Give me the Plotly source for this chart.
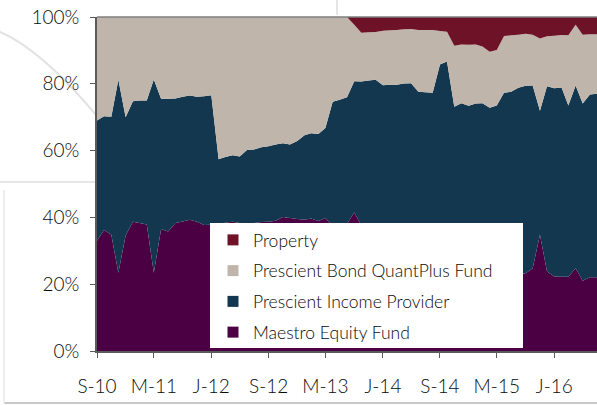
import pandas as pd
import plotly.graph_objects as go

# ---- data (monthly, Sep-2010 .. Jul-2016), % of portfolio ----
months = pd.date_range("2010-09-01", "2016-07-01", freq="MS")

maestro = [33.0, 36.2, 34.8, 23.4, 34.6, 38.7, 38.3, 37.9, 23.4, 36.5,
           35.8, 38.3, 38.8, 39.3, 38.7, 37.7, 37.8, 37.5, 38.5, 38.7,
           38.3, 38.1, 38.3, 38.6, 38.7, 39.0, 40.1, 39.8, 39.5, 39.3,
           39.7, 38.9, 39.8, 37.5, 37.8, 38.0, 41.5, 37.6, 37.0, 36.5,
           36.0, 35.4, 34.8, 34.0, 33.5, 32.8, 32.0, 31.5, 30.8, 30.0,
           29.2, 28.5, 27.8, 27.0, 26.3, 25.5, 24.8, 24.0, 23.5, 23.0,
           23.3, 24.8, 34.8, 23.8, 22.3, 22.2, 22.2, 24.8, 21.0, 22.1,
           22.1]
income = [36.0, 34.1, 35.3, 57.8, 35.4, 36.1, 36.7, 37.1, 57.9, 39.0,
          39.7, 37.3, 37.3, 37.2, 37.4, 38.6, 38.8, 19.9, 19.6, 19.9,
          19.9, 22.1, 22.0, 22.4, 22.6, 22.8, 22.1, 22.0, 23.4, 25.3,
          25.5, 26.1, 27.0, 37.1, 37.4, 38.0, 39.3, 43.1, 44.0, 44.7,
          43.6, 44.3, 44.9, 46.1, 46.7, 44.8, 45.5, 45.8, 55.0, 56.7,
          43.9, 45.7, 45.6, 47.1, 47.9, 47.3, 48.7, 53.3, 54.1, 55.8,
          56.1, 54.7, 37.1, 55.5, 56.4, 56.7, 51.3, 54.7, 53.1, 54.7,
          54.9]
bond = [31.0, 29.7, 29.9, 18.8, 30.0, 25.2, 25.0, 25.0, 18.7, 24.5,
        24.5, 24.4, 23.9, 23.5, 23.9, 23.7, 23.4, 42.6, 41.9, 41.4,
        41.8, 39.8, 39.7, 39.0, 38.7, 38.2, 37.8, 38.2, 37.1, 35.4,
        34.8, 35.0, 33.2, 25.4, 24.8, 24.0, 16.9, 14.6, 14.4, 14.3,
        16.3, 16.3, 16.4, 16.2, 16.2, 18.5, 18.6, 18.8, 10.0, 8.9,
        18.3, 17.6, 18.3, 17.7, 17.0, 16.8, 16.6, 17.0, 16.9, 15.9,
        15.6, 15.2, 21.7, 14.9, 15.7, 15.7, 21.0, 18.2, 20.6, 18.0,
        17.8]
prop = [0.0] * 36 + [2.3, 4.7, 4.6, 4.5, 4.1, 4.0, 3.9, 3.7, 3.6, 3.9,
                     3.9, 3.9, 4.2, 4.4, 8.6, 8.2, 8.3, 8.2, 8.8, 10.4,
                     9.9, 5.7, 5.5, 5.3, 5.0, 5.3, 6.4, 5.8, 5.6, 5.4,
                     5.5, 2.3, 5.3, 5.2, 5.2]

names = ["Maestro Equity Fund", "Prescient Income Provider",
         "Prescient Bond QuantPlus Fund", "Property"]
series = [maestro, income, bond, prop]
colors = ["#4b0044", "#12374f", "#bfb5aa", "#6e1227"]

tick_dates = ["2010-09-01", "2011-05-01", "2012-01-01", "2012-09-01",
              "2013-05-01", "2014-01-01", "2014-09-01", "2015-05-01",
              "2016-01-01"]
tick_text = ["S-10", "M-11", "J-12", "S-12", "M-13", "J-14", "S-14",
             "M-15", "J-16"]
y_ticks = [0, 20, 40, 60, 80, 100]
y_text = ["0%", "20%", "40%", "60%", "80%", "100%"]

FONT = "Lato"
TXT = "#0a0a0a"
AX = "#5a5a5a"

fig = go.Figure()
for nm, vals, col in zip(names, series, colors):
    fig.add_trace(go.Scatter(
        x=months, y=vals, name=nm, stackgroup="one", mode="none",
        fillcolor=col, showlegend=False, hoverinfo="skip"))
# legend entries (square swatches), top-most series first
for nm, col in zip(names[::-1], colors[::-1]):
    fig.add_trace(go.Scatter(
        x=[None], y=[None], name=nm, mode="markers", legendgroup=nm,
        marker=dict(symbol="square", size=11, color=col)))

# plot-area geometry in pixels (for decorative shapes)
L, R, T, B = 97, 597, 17, 351


def px(xp):
    return (xp - L) / (R - L)


def py(yp):
    return (B - yp) / (B - T)


shapes = [
    dict(type="line", xref="paper", yref="paper", x0=0, x1=1, y0=1, y1=1,
         line=dict(color="#7f7f7f", width=1.5), layer="above"),
    # white legend panel
    dict(type="rect", xref="paper", yref="paper", x0=px(210), x1=px(523),
         y0=py(348), y1=py(223), fillcolor="white",
         line=dict(width=0), layer="above"),
    # faint background decorations of the original page
    dict(type="path", xref="paper", yref="paper",
         path=f"M {px(-2)},{py(31)} Q {px(40)},{py(48)} {px(97)},{py(116)}",
         line=dict(color="#e2e2e2", width=2), layer="below"),
    dict(type="line", xref="paper", yref="paper", x0=px(0), x1=px(96),
         y0=py(182), y1=py(182), line=dict(color="#e6e6e6", width=2),
         layer="below"),
    dict(type="line", xref="paper", yref="paper", x0=px(337), x1=px(337),
         y0=py(0), y1=py(15), line=dict(color="#e6e6e6", width=2),
         layer="below"),
    dict(type="line", xref="paper", yref="paper", x0=px(4), x1=px(597),
         y0=py(403), y1=py(403), line=dict(color="#c8c8c8", width=2),
         layer="below"),
    dict(type="line", xref="paper", yref="paper", x0=px(4), x1=px(4),
         y0=py(190), y1=py(403), line=dict(color="#eeeeee", width=2),
         layer="below"),
]

fig.update_layout(
    template="none",
    width=597, height=405,
    margin=dict(l=L, r=597 - R, t=T, b=405 - B, pad=0),
    paper_bgcolor="white", plot_bgcolor="white",
    font=dict(family=FONT, color=TXT, size=19),
    showlegend=True,
    legend=dict(x=px(213), y=py(222), xanchor="left", yanchor="top",
                bgcolor="rgba(0,0,0,0)", borderwidth=0,
                font=dict(family=FONT, size=17.5, color=TXT, weight=300),
                traceorder="grouped", tracegroupgap=5,
                itemclick=False),
    xaxis=dict(type="date", range=["2010-09-01", "2016-07-01"],
               tickvals=tick_dates, ticktext=tick_text,
               ticks="outside", ticklen=5, tickcolor=AX, tickwidth=1,
               showline=True, linecolor=AX, linewidth=1.5,
               showgrid=False, zeroline=False, automargin=False,
               tickfont=dict(family=FONT, size=19, color=TXT, weight=300),
               ticklabelstandoff=12),
    yaxis=dict(range=[0, 100], tickvals=y_ticks, ticktext=y_text,
               ticks="outside", ticklen=5, tickcolor=AX,
               tickwidth=1, showline=True, linecolor=AX, linewidth=1.5,
               showgrid=False, zeroline=False, automargin=False,
               tickfont=dict(family=FONT, size=19, color=TXT, weight=300),
               ticklabelstandoff=7),
    shapes=shapes,
)

fig.write_html(
    "out.html",
    config={"displayModeBar": False},
    post_script="document.body.style.margin='0';"
                "document.body.style.overflow='hidden';",
)
